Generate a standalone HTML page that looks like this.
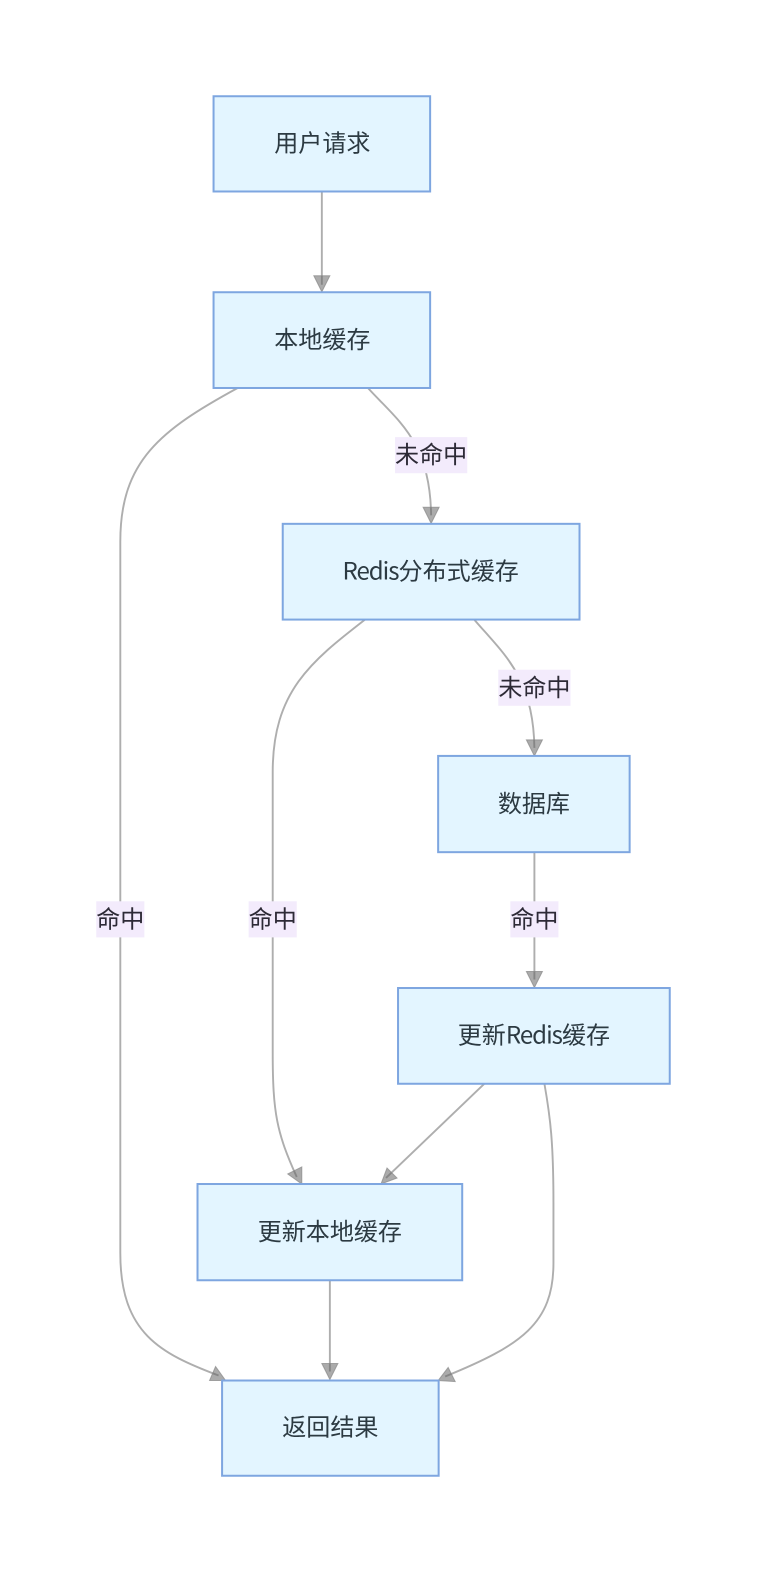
<!DOCTYPE html>
<html lang="zh">
<head>
<meta charset="utf-8">
<style>
html,body{margin:0;padding:0;background:#fff;width:766px;height:1572px;overflow:hidden}
svg{display:block}
text{font-family:"Noto Sans CJK SC","Liberation Sans",sans-serif;font-size:24px;text-anchor:middle;fill:#2c3a42}
.n{fill:#e3f5ff;stroke:#7ea6e0;stroke-width:2}
.e{fill:none;stroke:#aeaeae;stroke-width:1.900}
.a{fill:#666;fill-opacity:.55;stroke:#888;stroke-opacity:.7;stroke-width:1}
.l{fill:#f3ebfc}
.t{fill:#2d2a36}
.r{letter-spacing:-1px}
</style>
</head>
<body>
<svg width="766" height="1572" viewBox="0 0 764 1568" preserveAspectRatio="none" xmlns="http://www.w3.org/2000/svg">
<path class="e" d="M321 191V284"/>
<path class="e" d="M237 387C160 429 120 460 120 540V1250C120 1330 160 1350 218 1372"/>
<path class="e" d="M367 387C397 420 429 440 430 514"/>
<path class="e" d="M364 618C310 660 272 690 272 770V1050C272 1110 276 1130 296 1174"/>
<path class="e" d="M473 618C502 652 532 675 533 746"/>
<path class="e" d="M533 850V977"/>
<path class="e" d="M483 1081L385 1175"/>
<path class="e" d="M543 1081C549 1115 552 1140 552 1200V1260C552 1320 520 1342 444 1373"/>
<path class="e" d="M329 1277V1368"/>

<polygon class="a" points="313,275 329,275 321,291"/>
<polygon class="a" points="422,506 438,506 430,522"/>
<polygon class="a" points="525,738 541,738 533,754"/>
<polygon class="a" points="525,969 541,969 533,985"/>
<polygon class="a" points="321,1360 337,1360 329,1376"/>
<polygon class="a" points="287,1171 301,1164 301,1181"/>
<polygon class="a" points="380,1181 386,1165 396,1175"/>
<polygon class="a" points="209,1377 215,1363 225,1377"/>
<polygon class="a" points="437,1377 447,1364 454,1378"/>

<rect class="n" x="213" y="96" width="216" height="95"/>
<rect class="n" x="213" y="291.500" width="216" height="95.500"/>
<rect class="n" x="282" y="522.500" width="296" height="95.500"/>
<rect class="n" x="437" y="754" width="191" height="96"/>
<rect class="n" x="397" y="985.500" width="271" height="95.500"/>
<rect class="n" x="197" y="1181" width="264" height="96"/>
<rect class="n" x="221.500" y="1377" width="216" height="95"/>

<rect class="l" x="394" y="436" width="72" height="36"/>
<rect class="l" x="497" y="668" width="72" height="36"/>
<rect class="l" x="96" y="899" width="48" height="36"/>
<rect class="l" x="248" y="899" width="48" height="36"/>
<rect class="l" x="509" y="899" width="48" height="36"/>

<text x="321.500" y="151">用户请求</text>
<text x="321.500" y="347">本地缓存</text>
<text x="429.500" y="578"><tspan class="r">Redis</tspan>分布式缓存</text>
<text x="532.500" y="810">数据库</text>
<text x="532.500" y="1041">更新<tspan class="r">Redis</tspan>缓存</text>
<text x="329" y="1237">更新本地缓存</text>
<text x="329.500" y="1432">返回结果</text>

<text class="t" x="430" y="462">未命中</text>
<text class="t" x="533" y="694">未命中</text>
<text class="t" x="120" y="925">命中</text>
<text class="t" x="272" y="925">命中</text>
<text class="t" x="533" y="925">命中</text>
</svg>
</body>
</html>
